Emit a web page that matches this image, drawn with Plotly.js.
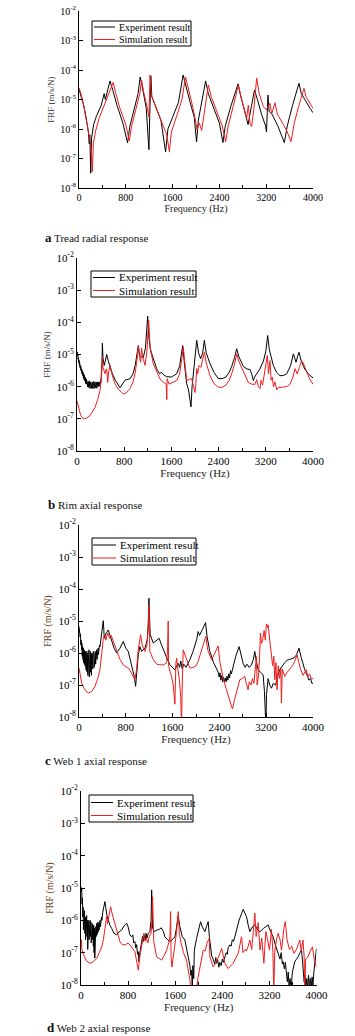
<!DOCTYPE html>
<html><head><meta charset="utf-8">
<script src="https://cdn.plot.ly/plotly-3.0.1.min.js"></script>
<style>html,body{margin:0;padding:0;background:#fff;}#chart{width:355px;height:1036px;}</style>
</head><body><div id="chart"></div>
<script>
// ---------- labels ----------
const xTickVals = [0, 800, 1600, 2400, 3200, 4000];
const xTickText = ['0', '800', '1600', '2400', '3200', '4000'];
const xMinorVals = [400, 1200, 2000, 2800, 3600];
const yTickVals = [-8, -7, -6, -5, -4, -3, -2];   // log10 of FRF
const yTickText = ['10<sup>-8</sup>', '10<sup>-7</sup>', '10<sup>-6</sup>', '10<sup>-5</sup>', '10<sup>-4</sup>', '10<sup>-3</sup>', '10<sup>-2</sup>'];
const seriesNames = ['Experiment result', 'Simulation result'];
const captionLetters = ['a', 'b', 'c', 'd'];
const captionTexts = ['Tread radial response', 'Rim axial response', 'Web 1 axial response', 'Web 2 axial response'];
const xTitleText = 'Frequency (Hz)';
const yTitleText = 'FRF (m/s/N)';

// ---------- data: [frequency Hz, log10 FRF (m/s/N)] ----------
const aExp = [[0,-4.65],[40,-4.9],[80,-5.2],[120,-5.6],[160,-6.1],[175,-6.5],[185,-6.2],[200,-7.5],[215,-6.3],[250,-5.85],[300,-5.55],[380,-5.2],[430,-4.8],[450,-5.0],[470,-4.85],[530,-4.37],[580,-4.7],[650,-5.2],[750,-5.8],[830,-6.47],[870,-5.9],[950,-5.3],[1010,-4.8],[1045,-4.24],[1080,-4.55],[1150,-5.3],[1195,-6.7],[1210,-5.5],[1228,-4.2],[1245,-4.9],[1300,-5.2],[1400,-5.7],[1480,-6.78],[1520,-6.0],[1600,-5.6],[1700,-5.1],[1780,-4.17],[1830,-4.6],[1900,-5.1],[1970,-5.6],[2010,-6.44],[2040,-5.7],[2100,-5.1],[2165,-4.37],[2210,-4.8],[2300,-5.3],[2400,-5.8],[2460,-6.46],[2500,-5.9],[2600,-5.2],[2720,-4.47],[2760,-4.85],[2860,-5.65],[2890,-5.85],[2950,-5.2],[3000,-4.68],[3050,-5.0],[3120,-5.5],[3190,-5.9],[3205,-6.1],[3230,-4.85],[3250,-5.4],[3300,-5.5],[3400,-5.9],[3510,-6.46],[3560,-5.9],[3650,-5.2],[3760,-4.45],[3800,-4.8],[3870,-5.05],[3950,-5.3],[4000,-5.45]];
const aSim = [[0,-4.6],[40,-4.85],[80,-5.2],[130,-5.7],[180,-6.3],[210,-6.7],[228,-7.45],[245,-6.5],[280,-6.1],[350,-5.6],[440,-5.15],[520,-4.8],[585,-4.42],[630,-4.8],[700,-5.3],[800,-5.85],[860,-6.4],[900,-5.9],[980,-5.3],[1040,-4.8],[1070,-4.34],[1100,-4.7],[1170,-5.3],[1195,-5.6],[1214,-4.17],[1235,-4.85],[1300,-5.2],[1400,-5.7],[1500,-6.2],[1545,-6.77],[1580,-6.1],[1680,-5.5],[1760,-5.0],[1820,-4.23],[1870,-4.65],[1950,-5.3],[2020,-6.03],[2057,-5.8],[2097,-6.05],[2140,-5.5],[2211,-4.51],[2260,-4.9],[2360,-5.4],[2450,-5.9],[2507,-6.43],[2550,-5.9],[2640,-5.2],[2724,-4.51],[2780,-5.0],[2866,-5.63],[2894,-5.19],[2923,-5.81],[2951,-5.92],[2990,-5.3],[3037,-4.27],[3080,-4.8],[3151,-5.24],[3200,-5.35],[3265,-5.13],[3293,-5.5],[3350,-5.11],[3390,-5.5],[3480,-5.8],[3560,-6.1],[3624,-6.43],[3680,-5.8],[3760,-5.2],[3846,-4.62],[3880,-4.9],[3950,-5.15],[4000,-5.3]];

const bExp = [[0,-4.95],[5,-4.92],[10,-5.05],[15,-5.0],[20,-5.15],[25,-5.1],[30,-5.25],[35,-5.18],[40,-5.32],[45,-5.25],[50,-5.4],[55,-5.33],[60,-5.47],[66,-5.38],[72,-5.52],[78,-5.45],[84,-5.6],[90,-5.5],[96,-5.65],[102,-5.55],[108,-5.72],[114,-5.6],[120,-5.78],[126,-5.65],[132,-5.82],[138,-5.7],[144,-5.9],[150,-5.75],[156,-5.92],[162,-5.78],[168,-5.96],[174,-5.8],[180,-6.0],[186,-5.84],[192,-6.02],[198,-5.85],[204,-5.98],[210,-5.82],[216,-6.05],[222,-5.88],[228,-6.02],[234,-5.85],[240,-6.06],[246,-5.9],[252,-6.0],[258,-5.86],[264,-6.05],[270,-5.88],[276,-6.02],[282,-5.84],[288,-6.06],[294,-5.9],[300,-6.0],[306,-5.85],[312,-6.04],[318,-5.88],[324,-6.0],[330,-5.86],[336,-6.05],[342,-5.9],[348,-6.0],[354,-5.85],[360,-5.98],[366,-5.86],[372,-6.0],[378,-5.88],[384,-5.95],[390,-5.85],[396,-5.9],[410,-5.7],[425,-5.2],[430,-4.65],[440,-5.1],[462,-5.34],[480,-5.2],[503,-5.0],[530,-5.2],[560,-5.4],[600,-5.6],[650,-5.8],[700,-5.95],[730,-6.03],[760,-5.95],[790,-5.85],[813,-5.8],[850,-5.78],[900,-5.75],[950,-5.6],[990,-5.3],[1020,-4.95],[1040,-4.72],[1055,-4.95],[1068,-5.03],[1100,-5.1],[1124,-5.09],[1160,-4.8],[1185,-4.3],[1198,-3.81],[1215,-4.4],[1240,-4.8],[1266,-4.97],[1310,-5.25],[1350,-5.44],[1400,-5.6],[1430,-5.55],[1460,-5.62],[1520,-5.69],[1600,-5.7],[1690,-5.6],[1740,-5.35],[1770,-5.0],[1791,-4.72],[1810,-5.1],[1840,-5.6],[1859,-5.91],[1890,-6.1],[1915,-6.35],[1932,-6.63],[1950,-6.0],[1990,-5.3],[2029,-4.56],[2060,-4.95],[2097,-5.13],[2130,-4.95],[2158,-4.56],[2190,-4.95],[2254,-5.28],[2320,-5.55],[2395,-5.75],[2460,-5.75],[2525,-5.7],[2580,-5.55],[2622,-5.37],[2670,-5.1],[2707,-4.82],[2740,-5.05],[2819,-5.37],[2880,-5.45],[2932,-5.47],[2960,-5.6],[2989,-5.81],[3010,-5.7],[3045,-5.6],[3100,-5.45],[3160,-5.2],[3200,-4.9],[3232,-4.41],[3260,-4.85],[3328,-5.34],[3380,-5.55],[3441,-5.66],[3500,-5.65],[3554,-5.6],[3620,-5.35],[3667,-4.98],[3690,-5.1],[3712,-5.24],[3740,-5.05],[3763,-4.93],[3800,-5.2],[3860,-5.45],[3930,-5.62],[4000,-5.73]];
const bSim = [[0,-6.44],[30,-6.7],[60,-6.88],[107,-7.0],[160,-6.98],[220,-6.9],[260,-6.8],[305,-6.65],[350,-6.4],[390,-6.12],[415,-5.75],[424,-5.5],[429,-5.08],[440,-5.4],[460,-5.55],[475,-5.6],[495,-5.45],[510,-5.55],[520,-5.87],[535,-5.55],[560,-5.34],[590,-5.6],[644,-5.91],[700,-6.08],[757,-6.18],[785,-6.23],[830,-6.2],[898,-6.06],[950,-5.85],[983,-5.6],[1015,-5.2],[1040,-4.75],[1060,-5.1],[1079,-5.24],[1095,-4.8],[1110,-5.05],[1153,-5.34],[1185,-4.9],[1215,-3.94],[1240,-4.8],[1294,-5.29],[1350,-5.55],[1407,-5.76],[1460,-5.85],[1512,-5.93],[1522,-6.4],[1527,-5.75],[1560,-5.92],[1620,-5.88],[1690,-5.81],[1740,-5.6],[1775,-5.2],[1802,-4.77],[1830,-5.3],[1859,-5.81],[1900,-5.78],[1944,-5.75],[1975,-6.0],[2000,-6.18],[2015,-5.9],[2029,-5.44],[2045,-5.6],[2068,-5.34],[2100,-5.4],[2130,-5.2],[2158,-4.93],[2190,-5.25],[2254,-5.66],[2320,-5.9],[2395,-6.02],[2460,-6.02],[2525,-5.95],[2580,-5.8],[2622,-5.6],[2670,-5.3],[2707,-4.98],[2740,-5.2],[2819,-5.55],[2870,-5.75],[2904,-5.87],[2960,-5.92],[3017,-5.93],[3045,-5.78],[3075,-6.0],[3102,-6.06],[3120,-5.8],[3145,-5.95],[3186,-5.5],[3210,-5.25],[3226,-5.03],[3245,-5.6],[3271,-5.19],[3290,-5.8],[3310,-5.7],[3330,-6.0],[3355,-5.85],[3385,-6.1],[3412,-6.02],[3480,-6.02],[3550,-6.0],[3610,-5.93],[3660,-5.7],[3695,-5.44],[3730,-5.6],[3770,-5.4],[3808,-5.19],[3830,-5.25],[3880,-5.5],[3940,-5.75],[4000,-5.93]];

const cExp = [[0,-5.17],[8,-5.3],[14,-5.22],[20,-5.5],[26,-5.4],[32,-5.75],[38,-5.6],[44,-5.9],[50,-5.7],[56,-6.1],[62,-5.8],[68,-6.2],[74,-5.85],[80,-6.3],[86,-5.9],[92,-6.35],[98,-5.95],[104,-6.4],[110,-5.95],[116,-6.5],[122,-6.0],[128,-6.55],[134,-5.95],[140,-6.6],[146,-6.0],[152,-6.7],[158,-5.95],[164,-6.65],[170,-5.9],[176,-6.75],[182,-6.0],[188,-6.73],[194,-5.95],[200,-6.6],[206,-6.05],[212,-6.7],[218,-6.0],[224,-6.55],[230,-6.05],[236,-6.5],[242,-5.95],[248,-6.45],[254,-6.0],[260,-6.45],[266,-5.95],[272,-6.4],[278,-5.95],[284,-6.35],[290,-5.9],[296,-6.25],[302,-5.9],[308,-6.2],[314,-5.85],[320,-6.1],[326,-5.85],[332,-6.05],[338,-5.8],[344,-5.95],[350,-5.75],[358,-5.8],[370,-5.6],[387,-5.38],[405,-5.2],[415,-4.99],[425,-5.3],[432,-5.54],[460,-5.4],[500,-5.28],[530,-5.45],[558,-5.64],[600,-5.85],[644,-6.0],[700,-5.85],[757,-5.64],[800,-5.85],[842,-5.95],[900,-6.37],[940,-6.7],[968,-7.04],[990,-6.5],[1013,-6.06],[1041,-5.8],[1070,-5.95],[1127,-5.85],[1167,-5.59],[1185,-5.0],[1195,-4.29],[1205,-4.9],[1218,-5.43],[1270,-5.69],[1320,-5.6],[1371,-5.54],[1400,-5.7],[1440,-5.9],[1500,-6.15],[1554,-6.37],[1600,-6.45],[1639,-6.53],[1670,-6.4],[1696,-6.32],[1720,-6.45],[1740,-6.25],[1765,-6.5],[1790,-6.35],[1830,-6.45],[1870,-6.3],[1895,-6.21],[1950,-5.95],[2010,-5.59],[2037,-5.33],[2060,-5.45],[2100,-5.3],[2130,-5.2],[2163,-5.05],[2190,-5.5],[2237,-5.95],[2300,-6.3],[2351,-6.52],[2380,-6.6],[2395,-6.75],[2410,-6.62],[2425,-6.85],[2440,-6.7],[2455,-6.9],[2470,-6.75],[2485,-6.92],[2500,-6.78],[2515,-6.9],[2530,-6.72],[2545,-6.85],[2560,-6.65],[2575,-6.78],[2590,-6.55],[2605,-6.65],[2634,-6.42],[2680,-6.1],[2737,-5.8],[2770,-6.1],[2805,-6.32],[2840,-6.45],[2870,-6.35],[2910,-6.45],[2948,-6.37],[2980,-6.2],[3005,-5.95],[3030,-6.25],[3062,-6.52],[3100,-6.6],[3147,-6.68],[3170,-7.2],[3185,-8.3],[3195,-8.3],[3205,-7.3],[3233,-6.8],[3260,-7.0],[3290,-7.1],[3320,-6.95],[3360,-7.0],[3400,-6.7],[3432,-6.52],[3517,-6.3],[3560,-6.22],[3602,-6.2],[3680,-6.15],[3720,-6.05],[3761,-5.85],[3800,-6.15],[3858,-6.52],[3900,-6.7],[3930,-6.85],[3960,-6.8],[3980,-6.95],[4000,-6.94]];
const cSim = [[0,-6.47],[46,-6.94],[100,-7.15],[159,-7.25],[220,-7.2],[273,-7.04],[320,-6.8],[358,-6.52],[390,-6.0],[415,-5.54],[440,-5.45],[460,-5.6],[490,-5.38],[510,-5.5],[530,-5.55],[550,-5.45],[580,-5.6],[644,-5.95],[700,-6.2],[757,-6.37],[800,-6.42],[860,-6.5],[927,-6.73],[955,-6.84],[985,-6.5],[1013,-5.9],[1053,-5.43],[1080,-5.75],[1127,-5.95],[1160,-5.75],[1185,-5.2],[1195,-4.5],[1205,-5.3],[1212,-5.95],[1270,-6.21],[1330,-6.35],[1383,-6.37],[1450,-6.37],[1500,-6.3],[1515,-5.8],[1525,-5.0],[1532,-6.42],[1560,-6.6],[1582,-6.73],[1610,-7.0],[1639,-7.6],[1656,-6.32],[1670,-6.16],[1690,-6.5],[1720,-6.9],[1740,-7.4],[1752,-8.3],[1765,-7.0],[1781,-5.9],[1800,-6.0],[1866,-6.37],[1895,-6.47],[1950,-6.45],[2000,-6.4],[2037,-6.26],[2100,-5.9],[2168,-5.48],[2200,-5.9],[2265,-6.21],[2310,-6.05],[2340,-5.95],[2379,-5.78],[2410,-6.3],[2460,-6.75],[2521,-7.15],[2570,-7.45],[2623,-7.75],[2660,-7.45],[2692,-7.2],[2748,-6.84],[2800,-6.78],[2834,-6.73],[2860,-6.95],[2890,-7.15],[2910,-6.9],[2940,-7.0],[2965,-6.8],[2990,-6.95],[3033,-6.11],[3045,-7.0],[3065,-6.75],[3085,-6.2],[3101,-5.38],[3120,-5.7],[3140,-5.6],[3164,-5.3],[3185,-5.6],[3204,-5.09],[3220,-5.2],[3233,-5.12],[3255,-5.5],[3290,-6.0],[3310,-6.4],[3330,-6.1],[3347,-6.84],[3365,-6.3],[3386,-7.15],[3405,-6.4],[3430,-6.8],[3450,-6.5],[3460,-7.56],[3475,-6.5],[3517,-6.73],[3560,-6.6],[3602,-6.52],[3650,-6.4],[3688,-6.26],[3727,-6.06],[3760,-6.3],[3790,-6.52],[3830,-6.7],[3860,-6.6],[3887,-6.52],[3910,-6.75],[3940,-6.65],[3970,-6.8],[4000,-6.8]];

const dExp = [[0,-4.96],[6,-5.1],[12,-5.0],[18,-5.5],[24,-5.3],[30,-5.9],[36,-5.6],[42,-6.3],[48,-5.75],[54,-6.1],[60,-5.7],[66,-6.4],[72,-5.9],[78,-6.6],[84,-5.95],[90,-6.2],[96,-5.85],[102,-6.5],[108,-6.0],[114,-6.9],[120,-6.05],[126,-6.4],[132,-6.0],[138,-6.6],[144,-6.1],[150,-6.3],[156,-6.0],[162,-6.5],[168,-6.05],[174,-6.7],[180,-6.15],[186,-6.45],[192,-6.1],[198,-6.6],[204,-6.2],[210,-6.8],[216,-6.15],[222,-7.0],[228,-6.25],[234,-7.17],[240,-6.3],[246,-6.6],[252,-6.2],[258,-6.5],[264,-6.1],[270,-6.45],[276,-6.15],[282,-6.4],[288,-6.05],[294,-6.35],[300,-6.1],[306,-6.3],[312,-6.0],[318,-6.25],[324,-6.0],[330,-6.2],[336,-5.95],[342,-6.1],[348,-5.9],[354,-6.0],[360,-5.8],[370,-5.75],[380,-5.65],[395,-5.5],[407,-5.42],[420,-5.6],[440,-5.85],[464,-5.99],[490,-6.15],[521,-6.25],[560,-6.4],[606,-6.45],[650,-6.35],[690,-6.3],[740,-6.15],[776,-6.09],[800,-6.2],[830,-6.45],[860,-6.51],[880,-6.45],[895,-6.7],[916,-6.66],[930,-6.85],[945,-6.75],[960,-7.05],[973,-6.97],[985,-7.28],[1000,-7.0],[1015,-6.85],[1030,-6.71],[1045,-6.5],[1060,-6.65],[1075,-6.45],[1090,-6.6],[1105,-6.4],[1120,-6.55],[1143,-6.4],[1170,-6.35],[1190,-6.0],[1200,-5.06],[1210,-5.8],[1217,-6.25],[1250,-6.35],[1290,-6.3],[1330,-6.28],[1363,-6.23],[1400,-6.35],[1425,-6.51],[1470,-6.6],[1510,-6.66],[1550,-6.6],[1595,-6.51],[1625,-6.2],[1650,-5.86],[1680,-6.2],[1720,-6.5],[1765,-6.61],[1795,-6.9],[1821,-7.13],[1850,-7.4],[1865,-7.7],[1878,-7.54],[1890,-8.1],[1900,-7.4],[1915,-7.8],[1925,-6.92],[1963,-6.56],[2000,-6.3],[2031,-6.04],[2060,-6.2],[2104,-6.35],[2130,-6.2],[2160,-6.04],[2180,-6.5],[2201,-6.92],[2220,-7.1],[2245,-7.2],[2270,-7.35],[2290,-7.15],[2303,-7.33],[2320,-7.2],[2340,-7.45],[2359,-7.3],[2380,-7.4],[2400,-7.2],[2420,-7.3],[2444,-7.13],[2465,-7.0],[2485,-7.05],[2500,-6.85],[2528,-6.76],[2550,-6.8],[2570,-6.6],[2590,-6.65],[2613,-6.51],[2650,-6.2],[2686,-5.99],[2755,-5.66],[2790,-5.8],[2812,-5.89],[2840,-6.15],[2868,-6.35],[2910,-6.2],[2953,-6.14],[3000,-6.3],[3038,-6.35],[3100,-6.25],[3140,-6.2],[3179,-6.14],[3220,-6.35],[3264,-6.51],[3300,-6.75],[3349,-7.02],[3380,-7.2],[3400,-7.0],[3420,-7.35],[3434,-7.28],[3455,-7.5],[3470,-7.3],[3491,-7.74],[3505,-7.9],[3520,-7.6],[3535,-8.1],[3550,-7.8],[3570,-8.1],[3590,-7.6],[3610,-7.4],[3631,-7.28],[3660,-7.2],[3688,-7.13],[3720,-7.0],[3745,-6.92],[3760,-7.2],[3775,-7.6],[3790,-7.9],[3805,-7.7],[3820,-8.1],[3835,-7.8],[3850,-8.1],[3865,-7.7],[3880,-8.05],[3895,-7.8],[3910,-8.1],[3925,-7.75],[3940,-8.0],[3955,-7.6],[3970,-7.3],[3985,-7.0],[4000,-6.87]];
const dSim = [[0,-6.8],[8,-6.6],[15,-6.9],[40,-7.05],[90,-7.25],[153,-7.33],[210,-7.28],[266,-7.18],[310,-7.0],[351,-6.82],[380,-6.6],[407,-6.3],[436,-5.89],[450,-6.1],[470,-5.85],[504,-5.58],[530,-5.8],[577,-6.14],[620,-6.45],[662,-6.66],[700,-6.75],[747,-6.76],[800,-6.7],[850,-6.8],[916,-6.97],[950,-7.3],[973,-7.54],[1000,-7.1],[1030,-6.76],[1069,-6.4],[1090,-6.65],[1110,-6.55],[1135,-6.7],[1160,-6.5],[1190,-6.4],[1205,-6.0],[1216,-5.27],[1225,-6.2],[1236,-6.66],[1284,-7.13],[1330,-7.2],[1369,-7.23],[1410,-7.1],[1454,-6.92],[1490,-6.7],[1510,-6.51],[1522,-5.73],[1530,-7.13],[1545,-7.44],[1580,-7.0],[1620,-6.4],[1652,-5.73],[1670,-6.4],[1700,-6.7],[1740,-7.0],[1793,-7.23],[1820,-7.5],[1850,-7.85],[1870,-8.2],[1960,-8.2],[1985,-7.8],[2020,-7.44],[2076,-6.92],[2110,-6.95],[2140,-6.7],[2178,-6.56],[2189,-7.13],[2245,-7.44],[2300,-7.3],[2359,-7.02],[2390,-6.87],[2444,-7.33],[2500,-7.49],[2585,-7.33],[2670,-7.02],[2727,-6.51],[2750,-7.0],[2790,-6.9],[2810,-6.95],[2840,-6.8],[2868,-6.61],[2900,-6.9],[2930,-6.3],[2953,-5.78],[2975,-6.5],[3010,-6.07],[3040,-6.92],[3070,-6.55],[3106,-7.33],[3140,-6.35],[3170,-6.6],[3200,-6.92],[3236,-6.28],[3260,-7.0],[3275,-8.3],[3290,-7.0],[3320,-6.6],[3349,-6.4],[3380,-6.6],[3406,-6.92],[3446,-6.25],[3470,-6.04],[3500,-6.6],[3540,-6.9],[3580,-6.8],[3615,-7.02],[3660,-6.9],[3717,-6.61],[3740,-6.95],[3770,-6.61],[3790,-7.1],[3800,-8.3],[3815,-7.2],[3850,-7.15],[3890,-6.97],[3932,-6.82],[3960,-7.2],[4000,-7.44]];

// ---------- geometry & style ----------
const W = 355, H = 1036;
const FONT = 'Liberation Serif, Times New Roman, serif';
const BLACK = '#000000', RED = '#ee1c1c';
const px = v => v / W, py = v => 1 - v / H;
const panels = [
  {exp: aExp, sim: aSim, x0: 79, x1: 313, y0: 11, y1: 188, tick: 10, yt: 9, ytColor: '#333', leg: {bx0: 92, bx1: 191, by0: 21, by1: 46, l0: 94, l1: 115, t: 117, r1: 27, r2: 39.5, fs: 10}, cap: {x: 43, y: 238}},
  {exp: bExp, sim: bSim, x0: 77, x1: 313, y0: 258, y1: 451, tick: 11, yt: 9, ytColor: '#333', leg: {bx0: 91, bx1: 196, by0: 271, by1: 297, l0: 93, l1: 115, t: 117, r1: 277.5, r2: 290.5, fs: 11}, cap: {x: 46, y: 504}},
  {exp: cExp, sim: cSim, x0: 79, x1: 313, y0: 525, y1: 717, tick: 11, yt: 10, ytColor: '#6b4421', leg: {bx0: 92, bx1: 196, by0: 538, by1: 565, l0: 93, l1: 116, t: 118, r1: 545, r2: 558, fs: 11}, cap: {x: 43, y: 760}},
  {exp: dExp, sim: dSim, x0: 81, x1: 316.5, y0: 791, y1: 985, tick: 11, yt: 10, ytColor: '#6b4421', leg: {bx0: 89, bx1: 193, by0: 795, by1: 822, l0: 91, l1: 113, t: 115, r1: 802.5, r2: 815.5, fs: 11}, cap: {x: 45, y: 1027}}
];

const traces = [], shapes = [], annotations = [];
const layout = {
  width: W, height: H, margin: {l: 0, r: 0, t: 0, b: 0},
  paper_bgcolor: '#fff', plot_bgcolor: '#fff', showlegend: false,
  font: {family: FONT, color: '#000'}
};

panels.forEach((p, i) => {
  const n = i === 0 ? '' : String(i + 1);
  const xa = 'x' + n, ya = 'y' + n;
  [[p.exp, BLACK, seriesNames[0]], [p.sim, RED, seriesNames[1]]].forEach(([d, c, name]) => {
    traces.push({
      type: 'scatter', mode: 'lines', name: name,
      x: d.map(q => q[0]), y: d.map(q => q[1]),
      xaxis: xa, yaxis: ya, line: {color: c, width: 1}, hoverinfo: 'skip'
    });
  });
  layout['xaxis' + n] = {
    domain: [px(p.x0), px(p.x1)], anchor: ya, range: [0, 4000],
    tickmode: 'array', tickvals: xTickVals, ticktext: xTickText,
    ticks: 'inside', ticklen: 4, tickwidth: 1, tickcolor: BLACK,
    minor: {tickmode: 'array', tickvals: xMinorVals, ticks: 'inside', ticklen: 3, tickwidth: 1, tickcolor: BLACK},
    showline: true, linecolor: BLACK, linewidth: 1, showgrid: false, zeroline: false,
    tickfont: {family: FONT, size: p.tick, color: '#000'},
    title: {text: xTitleText, font: {family: FONT, size: p.tick, color: '#222'}, standoff: 2},
    fixedrange: true
  };
  layout['yaxis' + n] = {
    domain: [py(p.y1), py(p.y0)], anchor: xa, range: [-8, -2],
    tickmode: 'array', tickvals: yTickVals, ticktext: yTickText,
    ticks: 'inside', ticklen: 4, tickwidth: 1, tickcolor: BLACK,
    showline: true, linecolor: BLACK, linewidth: 1, showgrid: false, zeroline: false,
    tickfont: {family: FONT, size: p.tick, color: '#000'},
    title: {text: yTitleText, font: {family: FONT, size: p.yt, color: p.ytColor}, standoff: 4},
    fixedrange: true
  };
  const L = p.leg;
  shapes.push({type: 'rect', xref: 'paper', yref: 'paper', x0: px(L.bx0), x1: px(L.bx1), y0: py(L.by1), y1: py(L.by0), line: {color: BLACK, width: 1}, fillcolor: 'rgba(255,255,255,1)', layer: 'above'});
  shapes.push({type: 'line', xref: 'paper', yref: 'paper', x0: px(L.l0), x1: px(L.l1), y0: py(L.r1), y1: py(L.r1), line: {color: BLACK, width: 1}, layer: 'above'});
  shapes.push({type: 'line', xref: 'paper', yref: 'paper', x0: px(L.l0), x1: px(L.l1), y0: py(L.r2), y1: py(L.r2), line: {color: RED, width: 1}, layer: 'above'});
  annotations.push({xref: 'paper', yref: 'paper', x: px(L.t), y: py(L.r1), xanchor: 'left', yanchor: 'middle', text: seriesNames[0], showarrow: false, font: {family: FONT, size: L.fs, color: '#000'}});
  annotations.push({xref: 'paper', yref: 'paper', x: px(L.t), y: py(L.r2), xanchor: 'left', yanchor: 'middle', text: seriesNames[1], showarrow: false, font: {family: FONT, size: L.fs, color: '#000'}});
  annotations.push({xref: 'paper', yref: 'paper', x: px(p.cap.x), y: py(p.cap.y), xanchor: 'left', yanchor: 'middle', showarrow: false,
    text: '<span style="font-size:13px"><b>' + captionLetters[i] + '</b></span> ' + captionTexts[i],
    font: {family: FONT, size: 11, color: '#111'}});
});
layout.shapes = shapes;
layout.annotations = annotations;

Plotly.newPlot('chart', traces, layout, {displayModeBar: false, staticPlot: true});
</script>
</body></html>
